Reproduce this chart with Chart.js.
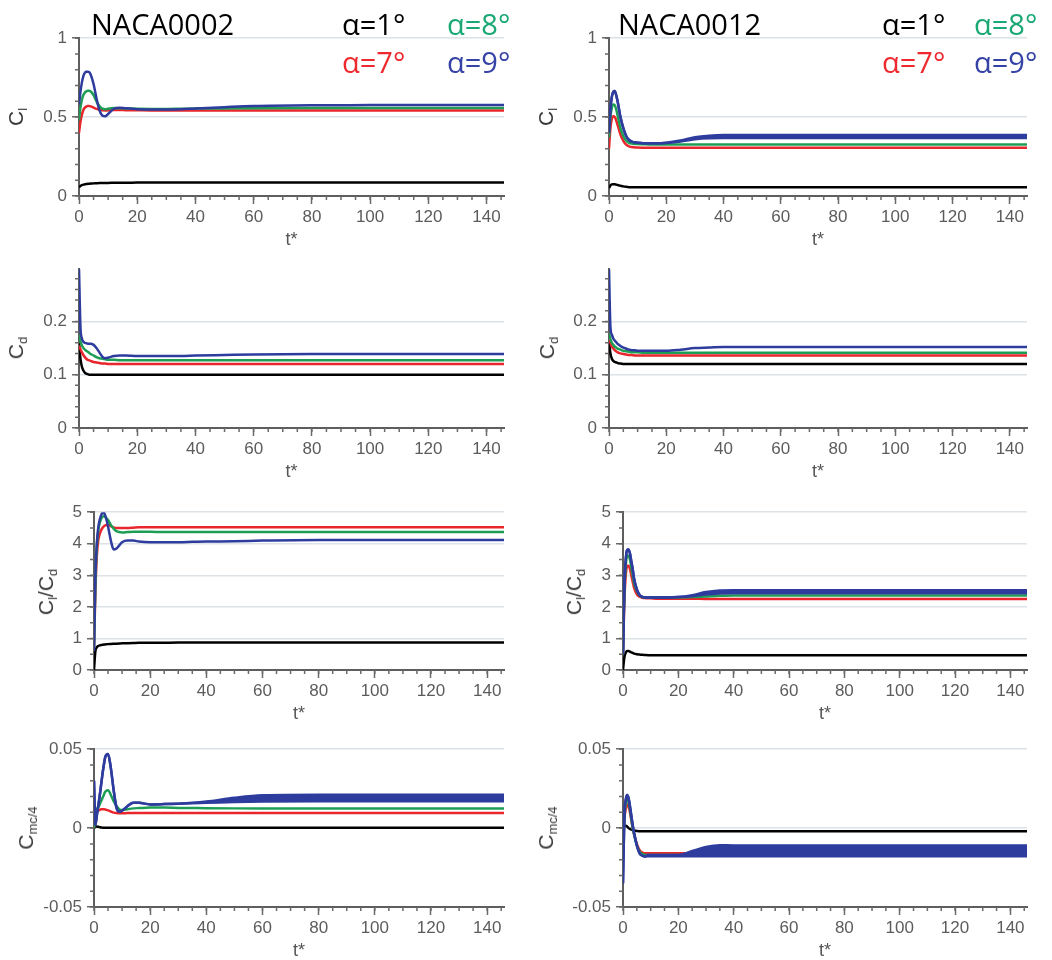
<!DOCTYPE html>
<html><head><meta charset="utf-8">
<script src="https://cdn.jsdelivr.net/npm/chart.js@4.4.1/dist/chart.umd.min.js"></script>
<style>
html,body{margin:0;padding:0;background:#fff;}
#wrap{position:relative;width:1052px;height:960px;overflow:hidden;background:#fff;}
canvas{position:absolute;}
.txt{position:absolute;font-family:'Open Sans',sans-serif;font-size:29px;line-height:1;white-space:nowrap;z-index:5;}
.yt{position:absolute;font-family:'Liberation Sans',Arial,sans-serif;font-size:21px;color:#3a3a3a;transform:translate(-50%,-50%) rotate(-90deg);white-space:nowrap;line-height:1;z-index:5;}
.yt sub{font-size:13px;vertical-align:-4px;}
</style></head>
<body><div id="wrap">
<canvas id="p1" width="520" height="228" style="left:0px;top:23px"></canvas>
<canvas id="p2" width="523" height="228" style="left:520px;top:23px"></canvas>
<canvas id="p3" width="520" height="229" style="left:0px;top:254px"></canvas>
<canvas id="p4" width="523" height="229" style="left:520px;top:254px"></canvas>
<canvas id="p5" width="520" height="228" style="left:0px;top:497px"></canvas>
<canvas id="p6" width="523" height="228" style="left:520px;top:497px"></canvas>
<canvas id="p7" width="520" height="228" style="left:0px;top:734px"></canvas>
<canvas id="p8" width="523" height="228" style="left:520px;top:734px"></canvas>

<div class="txt" style="left:91px;top:9px;color:#000">NACA0002</div>
<div class="txt" style="left:342px;top:9px;color:#000">α=1°</div>
<div class="txt" style="left:447px;top:9px;color:#1aa874">α=8°</div>
<div class="txt" style="left:342px;top:47px;color:#ee2a2f">α=7°</div>
<div class="txt" style="left:447px;top:47px;color:#3443a5">α=9°</div>

<div class="txt" style="left:618px;top:9px;color:#000">NACA0012</div>
<div class="txt" style="left:882px;top:9px;color:#000">α=1°</div>
<div class="txt" style="left:974px;top:9px;color:#1aa874">α=8°</div>
<div class="txt" style="left:882px;top:47px;color:#ee2a2f">α=7°</div>
<div class="txt" style="left:974px;top:47px;color:#3443a5">α=9°</div>

<div class="yt" style="left:17px;top:117px">C<sub>l</sub></div>
<div class="yt" style="left:547px;top:117px">C<sub>l</sub></div>
<div class="yt" style="left:17px;top:348px">C<sub>d</sub></div>
<div class="yt" style="left:548px;top:348px">C<sub>d</sub></div>
<div class="yt" style="left:47px;top:592px">C<sub>l</sub>/C<sub>d</sub></div>
<div class="yt" style="left:575px;top:592px">C<sub>l</sub>/C<sub>d</sub></div>
<div class="yt" style="left:27px;top:828px">C<sub>mc/4</sub></div>
<div class="yt" style="left:547px;top:828px">C<sub>mc/4</sub></div>
</div>
<script>
// ---- shared time axis (t*) ----
const T = [0,0.5,1,1.5,2,2.5,3,3.5,4,5,6,7,8,9,10,12,14,16,20,25,30,35,40,50,60,80,100,120,146];
const xTicks = [0,20,40,60,80,100,120,140];
const xLabels = ['0','20','40','60','80','100','120','140'];

// ---- tick labels ----
const clTicks = [0,0.5,1];        const clLabels = ['0','0.5','1'];
const cdTicks = [0,0.1,0.2];      const cdLabels = ['0','0.1','0.2'];
const clcdTicks = [0,1,2,3,4,5];  const clcdLabels = ['0','1','2','3','4','5'];
const cmTicks = [-0.05,0,0.05];   const cmLabels = ['-0.05','0','0.05'];

// ---- Cl, NACA0002 ----
const cl02_a1 = [0.055,0.064,0.069,0.072,0.074,0.076,0.077,0.078,0.079,0.08,0.081,0.082,0.082,0.083,0.083,0.084,0.084,0.084,0.085,0.085,0.085,0.085,0.085,0.085,0.085,0.085,0.085,0.085,0.085];
const cl02_a7 = [0.40,0.47,0.515,0.545,0.56,0.567,0.57,0.57,0.568,0.56,0.552,0.546,0.543,0.542,0.543,0.545,0.545,0.544,0.543,0.542,0.542,0.542,0.542,0.542,0.542,0.542,0.542,0.542,0.542];
const cl02_a8 = [0.48,0.56,0.61,0.64,0.655,0.663,0.667,0.667,0.662,0.64,0.60,0.57,0.553,0.55,0.553,0.557,0.556,0.555,0.553,0.552,0.552,0.553,0.554,0.555,0.556,0.557,0.557,0.557,0.557];
const cl02_a9 = [0.58,0.66,0.72,0.76,0.78,0.787,0.788,0.785,0.77,0.71,0.62,0.545,0.51,0.505,0.52,0.553,0.56,0.556,0.55,0.548,0.548,0.55,0.555,0.563,0.57,0.575,0.576,0.577,0.577];

// ---- Cl, NACA0012 ----
const cl12_a1 = [0.05,0.066,0.073,0.075,0.074,0.072,0.07,0.067,0.065,0.061,0.058,0.056,0.055,0.055,0.055,0.055,0.055,0.055,0.055,0.055,0.055,0.055,0.055,0.055,0.055,0.055,0.055,0.055,0.055];
const cl12_a7 = [0.30,0.43,0.49,0.505,0.50,0.48,0.45,0.42,0.39,0.35,0.325,0.315,0.31,0.308,0.307,0.306,0.305,0.305,0.305,0.305,0.305,0.305,0.305,0.305,0.305,0.305,0.305,0.305,0.305];
const cl12_a8 = [0.37,0.50,0.56,0.58,0.575,0.55,0.51,0.47,0.43,0.38,0.35,0.337,0.332,0.33,0.329,0.328,0.327,0.327,0.327,0.327,0.327,0.327,0.327,0.327,0.327,0.327,0.327,0.327,0.327];
const cl12_a9lo = [0.40,0.55,0.63,0.66,0.665,0.64,0.60,0.55,0.50,0.43,0.38,0.355,0.345,0.34,0.338,0.335,0.334,0.334,0.336,0.346,0.36,0.366,0.367,0.367,0.367,0.367,0.367,0.367,0.367];
const cl12_a9hi = [0.40,0.55,0.63,0.66,0.665,0.64,0.60,0.55,0.50,0.43,0.38,0.355,0.345,0.34,0.338,0.335,0.334,0.334,0.338,0.352,0.372,0.382,0.386,0.386,0.386,0.386,0.386,0.386,0.386];

// ---- Cd, NACA0002 ----
const cd02_a1 = [0.16,0.13,0.115,0.108,0.104,0.102,0.101,0.1,0.1,0.1,0.1,0.1,0.1,0.1,0.1,0.1,0.1,0.1,0.1,0.1,0.1,0.1,0.1,0.1,0.1,0.1,0.1,0.1,0.1];
const cd02_a7 = [0.155,0.148,0.142,0.137,0.133,0.13,0.128,0.127,0.126,0.124,0.123,0.122,0.121,0.121,0.12,0.12,0.12,0.12,0.12,0.12,0.12,0.12,0.12,0.12,0.12,0.12,0.12,0.12,0.12];
const cd02_a8 = [0.175,0.162,0.155,0.15,0.147,0.145,0.143,0.141,0.139,0.136,0.133,0.131,0.13,0.129,0.128,0.128,0.127,0.127,0.127,0.127,0.127,0.127,0.127,0.127,0.127,0.127,0.127,0.127,0.127];
const cd02_a9 = [0.30,0.19,0.168,0.162,0.16,0.159,0.158,0.158,0.158,0.156,0.15,0.142,0.134,0.131,0.132,0.135,0.136,0.136,0.135,0.135,0.135,0.135,0.136,0.137,0.138,0.139,0.139,0.139,0.139];

// ---- Cd, NACA0012 ----
const cd12_a1 = [0.165,0.14,0.13,0.126,0.124,0.123,0.122,0.121,0.121,0.12,0.12,0.12,0.12,0.12,0.12,0.12,0.12,0.12,0.12,0.12,0.12,0.12,0.12,0.12,0.12,0.12,0.12,0.12,0.12];
const cd12_a7 = [0.172,0.16,0.153,0.149,0.146,0.144,0.142,0.141,0.14,0.139,0.138,0.137,0.137,0.136,0.136,0.136,0.136,0.136,0.136,0.136,0.136,0.136,0.136,0.136,0.136,0.136,0.136,0.136,0.136];
const cd12_a8 = [0.178,0.167,0.16,0.156,0.153,0.151,0.149,0.148,0.147,0.145,0.144,0.143,0.142,0.142,0.142,0.141,0.141,0.141,0.141,0.141,0.141,0.141,0.141,0.141,0.141,0.141,0.141,0.141,0.141];
const cd12_a9 = [0.30,0.19,0.175,0.168,0.164,0.161,0.158,0.156,0.154,0.151,0.149,0.147,0.146,0.146,0.145,0.145,0.145,0.145,0.145,0.147,0.15,0.151,0.152,0.152,0.152,0.152,0.152,0.152,0.152];

// ---- Cl/Cd, NACA0002 ----
const lr02_a1 = [0,0.6,0.72,0.76,0.78,0.79,0.8,0.805,0.81,0.82,0.825,0.83,0.835,0.84,0.845,0.85,0.855,0.86,0.86,0.865,0.87,0.87,0.87,0.87,0.87,0.87,0.87,0.87,0.87];
const lr02_a7 = [0.7,2.5,3.6,4.1,4.3,4.42,4.5,4.55,4.58,4.6,4.56,4.52,4.5,4.5,4.5,4.5,4.51,4.52,4.52,4.52,4.52,4.52,4.52,4.52,4.52,4.52,4.52,4.52,4.52];
const lr02_a8 = [0.7,2.8,3.9,4.4,4.65,4.78,4.85,4.87,4.85,4.75,4.6,4.48,4.4,4.37,4.36,4.37,4.38,4.38,4.38,4.37,4.37,4.37,4.37,4.37,4.37,4.37,4.37,4.37,4.37];
const lr02_a9 = [0.6,3.0,4.0,4.5,4.75,4.9,4.97,4.98,4.9,4.55,4.1,3.82,3.85,3.95,4.05,4.1,4.1,4.07,4.05,4.05,4.05,4.06,4.07,4.08,4.1,4.12,4.12,4.12,4.12];

// ---- Cl/Cd, NACA0012 ----
const lr12_a1 = [0,0.4,0.55,0.6,0.6,0.58,0.56,0.54,0.52,0.5,0.49,0.48,0.475,0.47,0.47,0.47,0.47,0.47,0.47,0.47,0.47,0.47,0.47,0.47,0.47,0.47,0.47,0.47,0.47];
const lr12_a7 = [0.5,2.2,3.0,3.28,3.3,3.2,3.0,2.8,2.6,2.4,2.32,2.29,2.28,2.27,2.27,2.26,2.26,2.26,2.26,2.26,2.25,2.25,2.25,2.25,2.25,2.25,2.25,2.25,2.25];
const lr12_a8 = [0.5,2.5,3.3,3.6,3.62,3.5,3.25,3.0,2.75,2.5,2.36,2.31,2.3,2.3,2.3,2.3,2.3,2.3,2.3,2.31,2.33,2.35,2.36,2.36,2.36,2.36,2.36,2.36,2.36];
const lr12_a9lo = [0.5,2.7,3.5,3.8,3.82,3.7,3.45,3.2,2.9,2.55,2.38,2.32,2.3,2.3,2.3,2.3,2.3,2.3,2.31,2.34,2.39,2.42,2.43,2.43,2.43,2.43,2.43,2.43,2.43];
const lr12_a9hi = [0.5,2.7,3.5,3.8,3.82,3.7,3.45,3.2,2.9,2.55,2.38,2.32,2.3,2.3,2.3,2.3,2.3,2.3,2.31,2.37,2.47,2.52,2.53,2.53,2.53,2.53,2.53,2.53,2.53];

// ---- Cm c/4, NACA0002 ----
const cm02_a1 = [0,0.0008,0.001,0.0008,0.0006,0.0004,0.0003,0.0002,0.0002,0.0002,0.0002,0.0002,0.0002,0.0002,0.0002,0.0002,0.0002,0.0002,0.0002,0.0002,0.0002,0.0002,0.0002,0.0002,0.0002,0.0002,0.0002,0.0002,0.0002];
const cm02_a7 = [0,0.006,0.01,0.011,0.0115,0.012,0.012,0.012,0.0118,0.0112,0.0105,0.0098,0.0095,0.0094,0.0094,0.0095,0.0095,0.0095,0.0095,0.0095,0.0095,0.0095,0.0095,0.0095,0.0095,0.0095,0.0095,0.0095,0.0095];
const cm02_a8 = [0,0.008,0.012,0.013,0.015,0.017,0.019,0.021,0.023,0.024,0.021,0.017,0.014,0.012,0.0115,0.012,0.0125,0.0127,0.013,0.013,0.0128,0.0127,0.0126,0.0125,0.0125,0.0125,0.0125,0.0125,0.0125];
const cm02_a9lo = [0.03,0.002,0.008,0.014,0.02,0.027,0.034,0.04,0.045,0.047,0.038,0.024,0.013,0.0105,0.011,0.014,0.016,0.016,0.015,0.0152,0.0155,0.0158,0.016,0.0165,0.0168,0.017,0.017,0.017,0.017];
const cm02_a9hi = [0.03,0.002,0.008,0.014,0.02,0.027,0.034,0.04,0.045,0.047,0.038,0.024,0.013,0.0105,0.011,0.014,0.016,0.016,0.015,0.0152,0.0155,0.016,0.0168,0.0192,0.0208,0.0212,0.0212,0.0212,0.0212];

// ---- Cm c/4, NACA0012 ----
const cm12_a1 = [0,0.0012,0.0015,0.001,0,-0.0005,-0.001,-0.0013,-0.0015,-0.0018,-0.002,-0.002,-0.002,-0.002,-0.002,-0.002,-0.002,-0.002,-0.002,-0.002,-0.002,-0.002,-0.002,-0.002,-0.002,-0.002,-0.002,-0.002,-0.002];
const cm12_a7 = [-0.01,0.006,0.012,0.015,0.014,0.01,0.005,0,-0.004,-0.01,-0.014,-0.0155,-0.016,-0.016,-0.016,-0.016,-0.016,-0.016,-0.016,-0.016,-0.016,-0.016,-0.016,-0.016,-0.016,-0.016,-0.016,-0.016,-0.016];
const cm12_a8 = [-0.015,0.007,0.015,0.018,0.017,0.012,0.006,0,-0.004,-0.011,-0.015,-0.0165,-0.017,-0.017,-0.017,-0.017,-0.017,-0.017,-0.017,-0.017,-0.017,-0.017,-0.017,-0.017,-0.017,-0.017,-0.017,-0.017,-0.017];
const cm12_a9lo = [-0.035,0.008,0.018,0.021,0.019,0.014,0.008,0.002,-0.003,-0.011,-0.016,-0.0175,-0.018,-0.0178,-0.0178,-0.0178,-0.0178,-0.0178,-0.0178,-0.0178,-0.0178,-0.0178,-0.0178,-0.0178,-0.0178,-0.0178,-0.0178,-0.0178,-0.0178];
const cm12_a9hi = [-0.035,0.008,0.018,0.021,0.019,0.014,0.008,0.002,-0.003,-0.011,-0.016,-0.0175,-0.018,-0.017,-0.017,-0.017,-0.017,-0.017,-0.017,-0.0145,-0.012,-0.0108,-0.011,-0.011,-0.011,-0.011,-0.011,-0.011,-0.011];

// ---- styling ----
const FF = "'Liberation Sans', Arial, sans-serif";
const C_BLACK = '#000000', C_RED = '#e8262c', C_GREEN = '#1e9e55', C_BLUE = '#2e3c9e';

function ser(vals, color, order) {
  return {data: T.map((t, i) => ({x: t, y: vals[i]})), borderColor: color, backgroundColor: color,
    borderWidth: 2.5, pointRadius: 0, cubicInterpolationMode: 'monotone', fill: false, order: order};
}
function bandSer(lo, hi, color, order) {
  const a = ser(lo, color, order), b = ser(hi, color, order);
  b.fill = '-1';
  return [a, b];
}

const minorTicks = {
  id: 'minorTicks',
  afterDraw(chart, args, opts) {
    const ctx = chart.ctx, xs = chart.scales.x, ys = chart.scales.y;
    ctx.save();
    ctx.strokeStyle = '#6a6a6a'; ctx.lineWidth = 1.5;
    ctx.beginPath();
    const nx = Math.round((xs.max - xs.min) / opts.xStep);
    for (let k = 0; k <= nx; k++) {
      const v = xs.min + k * opts.xStep; if (v > xs.max + 1e-9) break;
      const p = xs.getPixelForValue(v);
      ctx.moveTo(p, ys.bottom); ctx.lineTo(p, ys.bottom + 4);
    }
    const ny = Math.floor((ys.max - ys.min) / opts.yStep + 1e-6);
    for (let k = 0; k <= ny; k++) {
      const v = ys.min + k * opts.yStep;
      const p = ys.getPixelForValue(v);
      ctx.moveTo(xs.left, p); ctx.lineTo(xs.left - 4, p);
    }
    ctx.stroke();
    ctx.restore();
  }
};
Chart.register(minorTicks);

function makeChart(id, datasets, yMin, yMax, yTicks, yLabels, yStep, yW) {
  return new Chart(document.getElementById(id), {
    type: 'line',
    data: {datasets: datasets},
    options: {
      responsive: false, animation: false, devicePixelRatio: 1,
      layout: {padding: {top: 14, right: 16, left: 0, bottom: 0}},
      plugins: {legend: {display: false}, tooltip: {enabled: false}, minorTicks: {xStep: 5, yStep: yStep}},
      scales: {
        x: {
          type: 'linear', min: 0, max: 146,
          afterBuildTicks: s => { s.ticks = xTicks.map(v => ({value: v})); },
          afterFit: s => { s.height = 55; },
          ticks: {color: '#5c5c5c', font: {family: FF, size: 17}, padding: 3, maxRotation: 0, autoSkip: false,
                  callback: (v, i) => xLabels[i]},
          grid: {drawOnChartArea: false, drawTicks: true, tickLength: 8, tickColor: '#6a6a6a', tickWidth: 1.5},
          border: {color: '#5e5e5e', width: 2},
          title: {display: true, text: 't*', color: '#555', font: {family: FF, size: 18}, padding: {top: 0, bottom: 0}}
        },
        y: {
          type: 'linear', min: yMin, max: yMax,
          afterBuildTicks: s => { s.ticks = yTicks.map(v => ({value: v})); },
          afterFit: s => { s.width = yW; },
          ticks: {color: '#5c5c5c', font: {family: FF, size: 17}, padding: 5, autoSkip: false,
                  callback: (v, i) => yLabels[i]},
          grid: {color: c => (c.tick && c.tick.value === yMin) ? 'rgba(0,0,0,0)' : '#dce2e6', lineWidth: 1.5,
                 drawTicks: true, tickLength: 7, tickColor: '#6a6a6a', tickWidth: 1.5},
          border: {color: '#5e5e5e', width: 2}
        }
      }
    }
  });
}

function four(a1, a7, a8, a9) {
  return [ser(a1, C_BLACK, 3), ser(a7, C_RED, 2), ser(a8, C_GREEN, 1), ser(a9, C_BLUE, 0)];
}
function fourBand(a1, a7, a8, lo, hi) {
  return [ser(a1, C_BLACK, 3), ser(a7, C_RED, 2), ser(a8, C_GREEN, 1)].concat(bandSer(lo, hi, C_BLUE, 0));
}

makeChart('p1', four(cl02_a1, cl02_a7, cl02_a8, cl02_a9), 0, 1, clTicks, clLabels, 0.1, 79);
makeChart('p2', fourBand(cl12_a1, cl12_a7, cl12_a8, cl12_a9lo, cl12_a9hi), 0, 1, clTicks, clLabels, 0.1, 89);
makeChart('p3', four(cd02_a1, cd02_a7, cd02_a8, cd02_a9), 0, 0.298, cdTicks, cdLabels, 0.02, 79);
makeChart('p4', four(cd12_a1, cd12_a7, cd12_a8, cd12_a9), 0, 0.298, cdTicks, cdLabels, 0.02, 89);
makeChart('p5', four(lr02_a1, lr02_a7, lr02_a8, lr02_a9), 0, 5, clcdTicks, clcdLabels, 0.5, 94);
makeChart('p6', fourBand(lr12_a1, lr12_a7, lr12_a8, lr12_a9lo, lr12_a9hi), 0, 5, clcdTicks, clcdLabels, 0.5, 103);
makeChart('p7', fourBand(cm02_a1, cm02_a7, cm02_a8, cm02_a9lo, cm02_a9hi), -0.05, 0.05, cmTicks, cmLabels, 0.01, 94);
makeChart('p8', fourBand(cm12_a1, cm12_a7, cm12_a8, cm12_a9lo, cm12_a9hi), -0.05, 0.05, cmTicks, cmLabels, 0.01, 103);
</script>
</body></html>
